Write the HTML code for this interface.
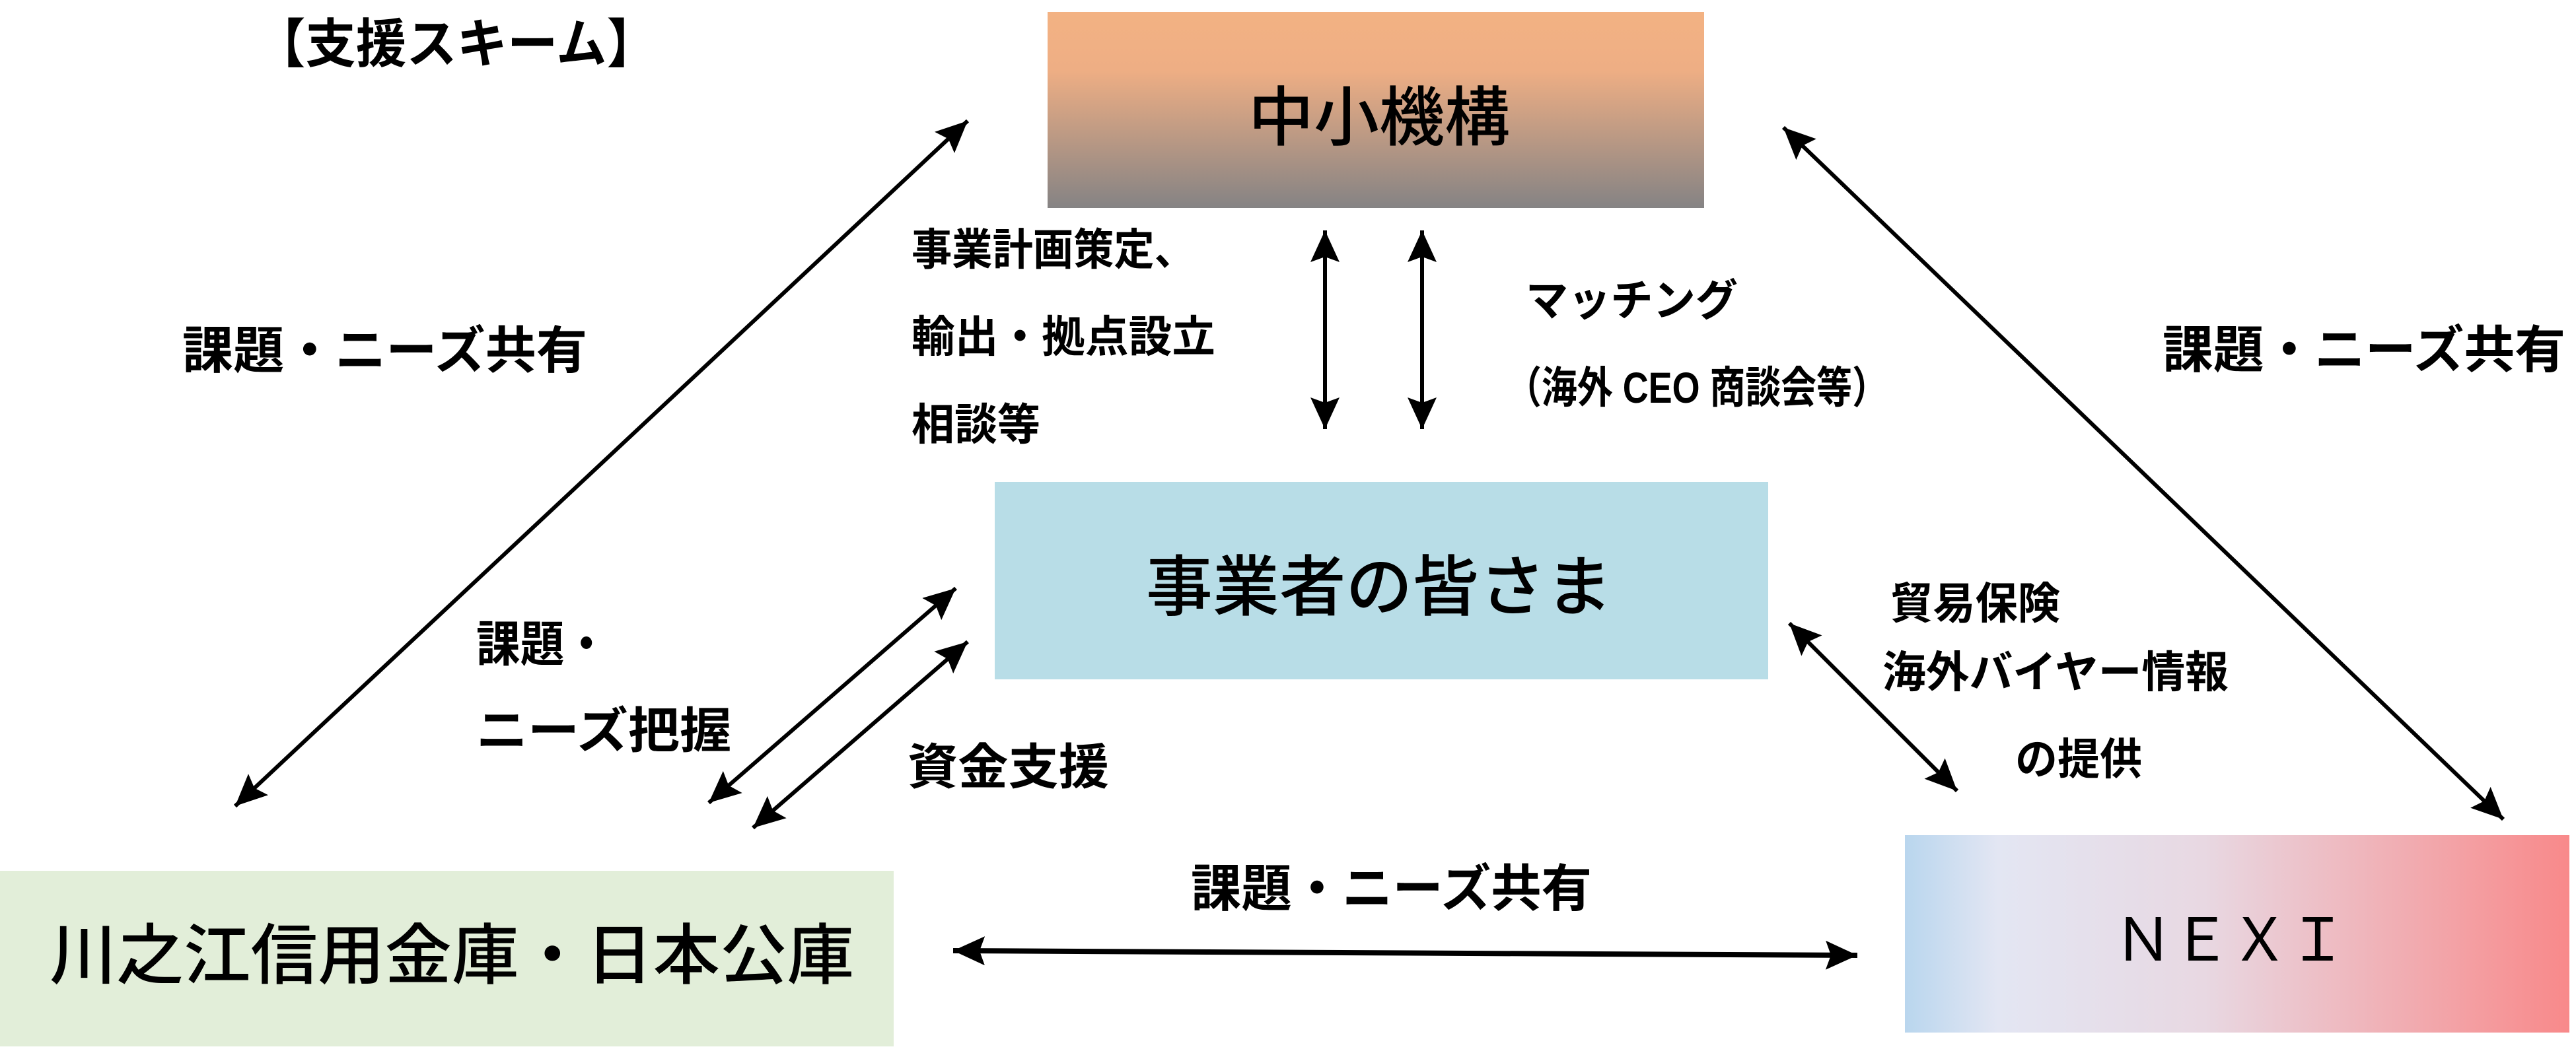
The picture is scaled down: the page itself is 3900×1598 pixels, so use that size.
<!DOCTYPE html>
<html><head><meta charset="utf-8"><style>
html,body{margin:0;padding:0;background:#fff;}
svg{display:block;}
text{font-family:"Liberation Sans","Noto Sans CJK JP",sans-serif;font-weight:700;fill:#000;dominant-baseline:central;}
</style></head><body>
<svg width="3900" height="1598" viewBox="0 0 3900 1598" xmlns="http://www.w3.org/2000/svg">
<defs>
<linearGradient id="g1" x1="0" y1="0" x2="0" y2="1">
<stop offset="0" stop-color="#F3B283"/><stop offset="0.3" stop-color="#EEAE84"/><stop offset="1" stop-color="#858384"/>
</linearGradient>
<linearGradient id="g2" x1="0" y1="0" x2="1" y2="0">
<stop offset="0" stop-color="#B9D6EE"/><stop offset="0.14" stop-color="#E3E6F3"/><stop offset="0.45" stop-color="#E8D8E2"/><stop offset="1" stop-color="#F8898A"/>
</linearGradient>
<marker id="ah" markerUnits="userSpaceOnUse" markerWidth="60" markerHeight="50" refX="48" refY="22" orient="auto-start-reverse">
<path d="M0,0 L48,22 L0,44 L8,22 Z" fill="#000"/>
</marker>
</defs>

<rect x="1586" y="18" width="994" height="297" fill="url(#g1)"/>
<rect x="1506" y="730" width="1171" height="299" fill="#B8DDE7"/>
<rect x="0" y="1319" width="1353" height="266" fill="#E2EED9"/>
<rect x="2884" y="1265" width="1006" height="299" fill="url(#g2)"/>

<g stroke="#000" stroke-width="6" fill="none">
<line x1="1465" y1="183" x2="356" y2="1221" marker-start="url(#ah)" marker-end="url(#ah)"/>
<line x1="2700" y1="193" x2="3790" y2="1241" marker-start="url(#ah)" marker-end="url(#ah)"/>
<line x1="1447" y1="891" x2="1073" y2="1216" marker-start="url(#ah)" marker-end="url(#ah)"/>
<line x1="1465" y1="972" x2="1140" y2="1254" marker-start="url(#ah)" marker-end="url(#ah)"/>
<line x1="2709" y1="944" x2="2963" y2="1198" marker-start="url(#ah)" marker-end="url(#ah)"/>
<line x1="2006" y1="349" x2="2006" y2="650" marker-start="url(#ah)" marker-end="url(#ah)"/>
<line x1="2153" y1="349" x2="2153" y2="650" marker-start="url(#ah)" marker-end="url(#ah)"/>
<line x1="1443" y1="1440" x2="2812" y2="1447" stroke-width="8" marker-start="url(#ah)" marker-end="url(#ah)"/>
</g>

<text x="386" y="67" font-size="80" textLength="609" lengthAdjust="spacingAndGlyphs">【支援スキーム】</text>
<text x="1890" y="178" font-size="98" font-weight="400" textLength="396" lengthAdjust="spacingAndGlyphs" style="font-weight:500">中小機構</text>
<text x="1735" y="890" font-size="100" textLength="706" lengthAdjust="spacingAndGlyphs" style="font-weight:500">事業者の皆さま</text>
<text x="75" y="1448" font-size="100" textLength="1218" lengthAdjust="spacingAndGlyphs" style="font-weight:500">川之江信用金庫・日本公庫</text>
<text x="3200" y="1425" font-size="90" textLength="354" lengthAdjust="spacing" style="font-weight:400">ＮＥＸＩ</text>

<text x="276" y="532" font-size="77" textLength="613" lengthAdjust="spacingAndGlyphs">課題・ニーズ共有</text>
<text x="3274" y="531" font-size="77" textLength="610" lengthAdjust="spacingAndGlyphs">課題・ニーズ共有</text>
<text x="1803" y="1347" font-size="77" textLength="607" lengthAdjust="spacingAndGlyphs">課題・ニーズ共有</text>

<text x="1380" y="378" font-size="66" textLength="429" lengthAdjust="spacingAndGlyphs">事業計画策定、</text>
<text x="1380" y="510" font-size="66" textLength="460" lengthAdjust="spacingAndGlyphs">輸出・拠点設立</text>
<text x="1380" y="643" font-size="66" textLength="195" lengthAdjust="spacingAndGlyphs">相談等</text>

<text x="2310" y="455" font-size="66" textLength="321" lengthAdjust="spacingAndGlyphs">マッチング</text>
<text x="2280" y="587" font-size="66" textLength="578" lengthAdjust="spacingAndGlyphs">（海外 CEO 商談会等）</text>

<text x="721" y="976" font-size="74" textLength="200" lengthAdjust="spacingAndGlyphs">課題・</text>
<text x="721" y="1107" font-size="74" textLength="386" lengthAdjust="spacingAndGlyphs">ニーズ把握</text>
<text x="1374" y="1162" font-size="74" textLength="305" lengthAdjust="spacingAndGlyphs">資金支援</text>

<text x="2862" y="914" font-size="66" textLength="257" lengthAdjust="spacingAndGlyphs">貿易保険</text>
<text x="2850" y="1018" font-size="66" textLength="524" lengthAdjust="spacingAndGlyphs">海外バイヤー情報</text>
<text x="3051" y="1150" font-size="66" textLength="192" lengthAdjust="spacingAndGlyphs">の提供</text>
</svg>
</body></html>
